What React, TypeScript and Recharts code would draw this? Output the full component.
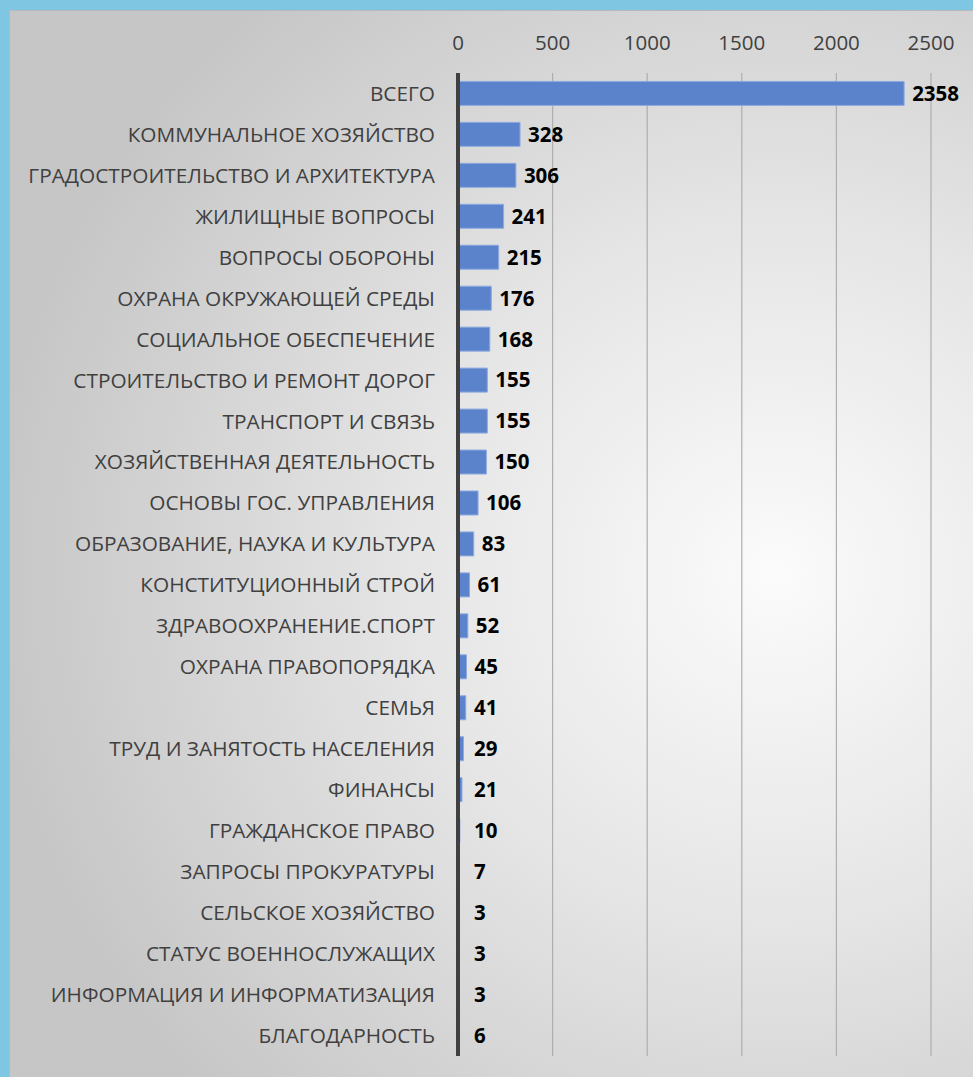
import React from 'react';
import { BarChart, Bar, XAxis, YAxis, CartesianGrid, LabelList } from 'recharts';

const categories = [
  'ВСЕГО',
  'КОММУНАЛЬНОЕ ХОЗЯЙСТВО',
  'ГРАДОСТРОИТЕЛЬСТВО И АРХИТЕКТУРА',
  'ЖИЛИЩНЫЕ ВОПРОСЫ',
  'ВОПРОСЫ ОБОРОНЫ',
  'ОХРАНА ОКРУЖАЮЩЕЙ СРЕДЫ',
  'СОЦИАЛЬНОЕ ОБЕСПЕЧЕНИЕ',
  'СТРОИТЕЛЬСТВО И РЕМОНТ ДОРОГ',
  'ТРАНСПОРТ И СВЯЗЬ',
  'ХОЗЯЙСТВЕННАЯ ДЕЯТЕЛЬНОСТЬ',
  'ОСНОВЫ ГОС. УПРАВЛЕНИЯ',
  'ОБРАЗОВАНИЕ, НАУКА И КУЛЬТУРА',
  'КОНСТИТУЦИОННЫЙ СТРОЙ',
  'ЗДРАВООХРАНЕНИЕ.СПОРТ',
  'ОХРАНА ПРАВОПОРЯДКА',
  'СЕМЬЯ',
  'ТРУД И ЗАНЯТОСТЬ НАСЕЛЕНИЯ',
  'ФИНАНСЫ',
  'ГРАЖДАНСКОЕ ПРАВО',
  'ЗАПРОСЫ ПРОКУРАТУРЫ',
  'СЕЛЬСКОЕ ХОЗЯЙСТВО',
  'СТАТУС ВОЕННОСЛУЖАЩИХ',
  'ИНФОРМАЦИЯ И ИНФОРМАТИЗАЦИЯ',
  'БЛАГОДАРНОСТЬ',
];

const values = [2358, 328, 306, 241, 215, 176, 168, 155, 155, 150, 106, 83, 61, 52, 45, 41, 29, 21, 10, 7, 3, 3, 3, 6];

const xTicks = [0, 500, 1000, 1500, 2000, 2500];

const data = categories.map((name, i) => ({ name, value: values[i] }));

const FONT = '"Open Sans", "Noto Sans", sans-serif';

const PLOT_LEFT = 448;

const ValueLabel = (props: any) => {
  const { x, y, width, height, value } = props;
  const end = x + width;
  const lx = Math.max(end + 8, PLOT_LEFT + 16);
  return (
    <text
      x={lx}
      y={y + height / 2}
      dy="0.36em"
      fill="#000000"
      fontFamily={FONT}
      fontWeight={700}
      fontSize={20.5}
      textAnchor="start"
    >
      {value}
    </text>
  );
};

export default function App() {
  return (
    <div
      style={{
        position: 'absolute',
        left: 0,
        top: 0,
        width: 973,
        height: 1077,
        background: '#7ec6e1',
        overflow: 'hidden',
      }}
    >
      <div
        style={{
          position: 'absolute',
          left: 9,
          top: 10,
          width: 980,
          height: 1080,
          background:
            'radial-gradient(ellipse 80% 70% at 78% 52%, #fbfbfb 0%, #e6e6e6 45%, #c6c6c6 100%)',
          borderTop: '1px solid #b8b8b8',
          borderLeft: '1px solid #b8b8b8',
        }}
      >
        <BarChart
          width={964}
          height={1067}
          data={data}
          layout="vertical"
          margin={{ top: 32, right: 43, bottom: 22, left: 0 }}
          barCategoryGap="20.5%"
        >
          <CartesianGrid horizontal={false} vertical={true} stroke="#aeaeae" strokeWidth={1.2} />
          <XAxis
            type="number"
            orientation="top"
            domain={[0, 2500]}
            ticks={xTicks}
            axisLine={false}
            tickLine={false}
            tickSize={0}
            tickMargin={23}
            height={30}
            tick={{ fill: '#404040', fontSize: 20.5, fontFamily: FONT }}
            interval={0}
          />
          <YAxis
            type="category"
            dataKey="name"
            width={PLOT_LEFT}
            axisLine={{ stroke: '#404040', strokeWidth: 4 }}
            tickLine={false}
            tickSize={0}
            tickMargin={23}
            tick={{ fill: '#404040', fontSize: 20.8, fontFamily: FONT }}
            interval={0}
          />
          <Bar
            dataKey="value"
            fill="#5b83cb"
            stroke="#8eaadf"
            strokeWidth={1}
            isAnimationActive={false}
          >
            <LabelList dataKey="value" content={<ValueLabel />} />
          </Bar>
        </BarChart>
      </div>
    </div>
  );
}
